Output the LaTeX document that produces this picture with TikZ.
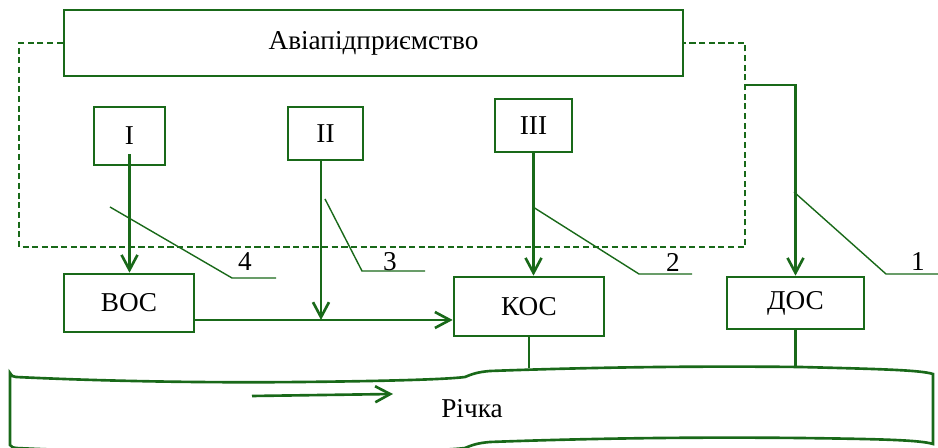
\documentclass[tikz,border=0pt]{standalone}
\usepackage{fontspec}
\setmainfont{Liberation Serif}
\usetikzlibrary{arrows.meta}
\definecolor{dgreen}{RGB}{25,105,25}
\tikzset{
  unit/.style={draw=dgreen, line width=1.5pt, rectangle, inner sep=0pt},
  flow/.style={draw=dgreen, line width=1.5pt, -{Straight Barb[length=0.3cm,width=0.32cm,line width=1.5pt]}},
  link/.style={draw=dgreen, line width=1.5pt},
  leader/.style={draw=dgreen, line width=0.8pt},
  border/.style={draw=dgreen, line width=1.5pt, dash pattern=on 3.5pt off 2pt},
}

\begin{document}
\begin{tikzpicture}[x=0.02cm, y=-0.02cm, font=\fontsize{15.5}{18}\selectfont]
    \clip (0,0) rectangle (938,448);

    % Enterprise and its dashed boundary
    \node[unit, minimum width=12.38cm, minimum height=1.32cm] (avia) at (373.5,43) {Авіапідприємство};
    \draw[border] (avia.west) -| (19,247) -| (745,43) -- (avia.east);

    % Sources of waste water
    \node[unit, minimum width=1.42cm, minimum height=1.16cm] (I) at (129.5,136) {I};
    \node[unit, minimum width=1.5cm, minimum height=1.06cm] (II) at (325.5,133.5) {II};
    \node[unit, minimum width=1.54cm, minimum height=1.06cm] (III) at (533.5,125.5) {III};

    % Treatment plants
    \node[unit, minimum width=2.6cm, minimum height=1.16cm] (BOC) at (129,303) {ВОС};
    \node[unit, minimum width=3.0cm, minimum height=1.18cm] (KOC) at (529,306.5) {КОС};
    \node[unit, minimum width=2.74cm, minimum height=1.04cm] (DOC) at (795.5,303) {ДОС};

    \coordinate (jn) at (321,320);
    \coordinate (tap) at (745,85);
    \coordinate (bank) at (0,368);

    % Flows
    \draw[flow] ([yshift=0.24cm]I.south) -- (I.south |- BOC.north);
    \draw[flow] (II.south -| jn) -- (jn);
    \draw[flow] (BOC.east |- jn) -- (KOC.west |- jn);
    \draw[flow] (III.south) -- (III.south |- KOC.north);
    \draw[flow] (tap) -| (DOC.north);
    \draw[link] (KOC.south) -- (KOC.south |- bank);
    \draw[link] (DOC.south) -- (DOC.south |- bank);

    % River
    \draw[link] (10,373) .. controls (12,376) and (13,377) .. (16,377)
        .. controls (100,381) and (200,383) .. (300,382)
        .. controls (400,381) and (450,379) .. (465,377)
        .. controls (472,374) and (478,372) .. (490,371)
        .. controls (600,367) and (700,366) .. (800,367)
        .. controls (880,369) and (920,370) .. (933,374) -- (933,444)
        .. controls (920,440) and (880,439) .. (800,438)
        .. controls (700,437) and (600,438) .. (490,442)
        .. controls (478,443) and (472,445) .. (465,448)
        .. controls (450,450) and (400,452) .. (300,453)
        .. controls (200,454) and (100,452) .. (16,448)
        .. controls (13,448) and (12,447) .. (10,445) -- cycle;
    \draw[flow] (252,396) -- (393,394);
    \node (river) at (472,409) {Річка};

    % Leader lines with numbers
    \foreach \xa/\ya/\xb/\yb/\xc/\lx/\num in {110/207/232/278/276/245/4, 325/199/362/271/425/390/3, 533/207/639/274/692/673/2, 794/192/886/274/938/918/1} {
        \draw[leader] (\xa,\ya) -- (\xb,\yb) -- (\xc,\yb);
        \node (num\num) at (\lx,262) {\num};
    }
\end{tikzpicture}
\end{document}
